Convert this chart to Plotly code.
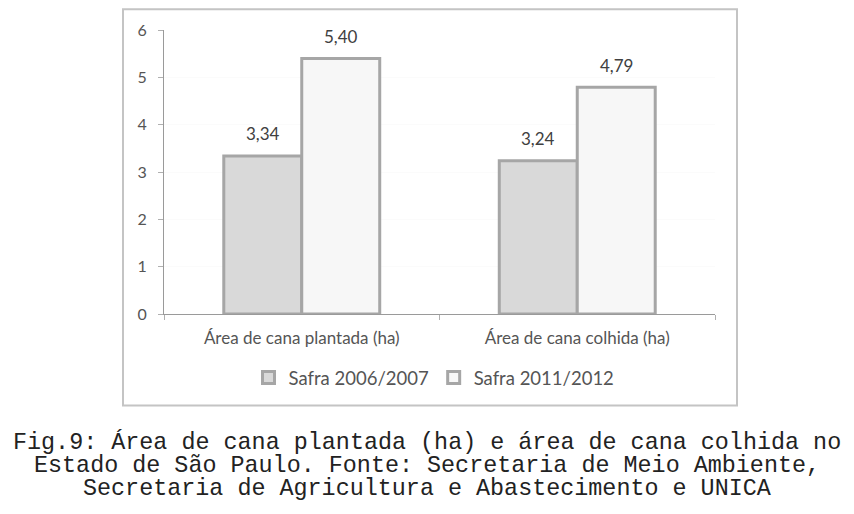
import plotly.graph_objects as go

categorias = ["Área de cana plantada (ha)", "Área de cana colhida (ha)"]
safra_2006_2007 = [3.34, 3.24]
safra_2011_2012 = [5.40, 4.79]
series_nomes = ["Safra 2006/2007", "Safra 2011/2012"]
legenda_fig = [
    "Fig.9: Área de cana plantada (ha) e área de cana colhida no",
    "Estado de São Paulo. Fonte: Secretaria de Meio Ambiente,",
    "Secretaria de Agricultura e Abastecimento e UNICA",
]

# the page body has an 8px margin, so the targets are shifted by 8
OFF = 8
W, H = 854 - OFF, 514 - OFF
L, R, T, B = 164 - OFF, 715 - OFF, 25 - OFF, 314 - OFF

def px_x( p ):
    return ( p - OFF - L ) / ( R - L )

def px_y( p ):
    return ( B - ( p - OFF ) ) / ( B - T )

fig = go.Figure()
fig.add_trace( go.Bar( x=categorias, y=safra_2006_2007, name=series_nomes[0],
                       marker=dict( color="#d9d9d9", line=dict( color="#a6a6a6", width=3 ) ) ) )
fig.add_trace( go.Bar( x=categorias, y=safra_2011_2012, name=series_nomes[1],
                       marker=dict( color="#f7f7f7", line=dict( color="#a6a6a6", width=3 ) ) ) )

# value labels, a bit above each bar
for serie, shift in [( safra_2006_2007, -39 ), ( safra_2011_2012, 39 )]:
    for cat, val in zip( categorias, serie ):
        fig.add_annotation( x=cat, y=val, text=f"{val:.2f}".replace( ".", "," ),
                            showarrow=False, xshift=shift, yshift=22, yanchor="middle",
                            font=dict( color="#404040", size=17 ) )

# chart frame
fig.add_shape( type="rect", xref="paper", yref="paper",
               x0=px_x( 123 ), x1=px_x( 737 ), y0=px_y( 407 ), y1=px_y( 4 ),
               line=dict( color="#c4c4c4", width=2 ), fillcolor="white", layer="below" )

# caption, one annotation per line to keep the tight line spacing
for i, linha in enumerate( legenda_fig ):
    fig.add_annotation( text=linha, xref="paper", yref="paper", showarrow=False,
                        x=px_x( 427 ), y=px_y( 445 + i * 23.5 ), xanchor="center", yanchor="middle",
                        font=dict( family="Liberation Mono, Courier New, monospace", size=23.4, color="#222222" ) )

fig.update_yaxes( range=[0, 6], dtick=1, showline=True, linecolor="#9a9a9a", linewidth=1,
                  ticks="outside", ticklen=5, tickcolor="#b0b0b0", ticklabelstandoff=8,
                  showgrid=True, gridcolor="#fbfbfb", gridwidth=1, zeroline=False,
                  tickfont=dict( color="#555555", size=16 ) )
fig.update_xaxes( showline=True, linecolor="#9a9a9a", linewidth=1,
                  ticks="outside", ticklen=5, tickcolor="#b0b0b0", tickson="boundaries",
                  ticklabelstandoff=9,
                  tickfont=dict( color="#555555", size=17 ) )
fig.update_layout( width=W, height=H,
                   font=dict( family="Lato, Open Sans, sans-serif" ),
                   separators=",.",
                   barmode="group", bargap=0.434, bargroupgap=0,
                   plot_bgcolor="#f2f2f2", paper_bgcolor="white",
                   margin=dict( l=L, r=W - R, t=T, b=H - B ),
                   legend=dict( orientation="h", x=px_x( 434 ), y=px_y( 379 ),
                                xanchor="center", yanchor="middle",
                                font=dict( color="#555555", size=18.5 ),
                                itemwidth=30,
                                bgcolor="rgba(0,0,0,0)" ) )

fig.write_html( "out.html" )
